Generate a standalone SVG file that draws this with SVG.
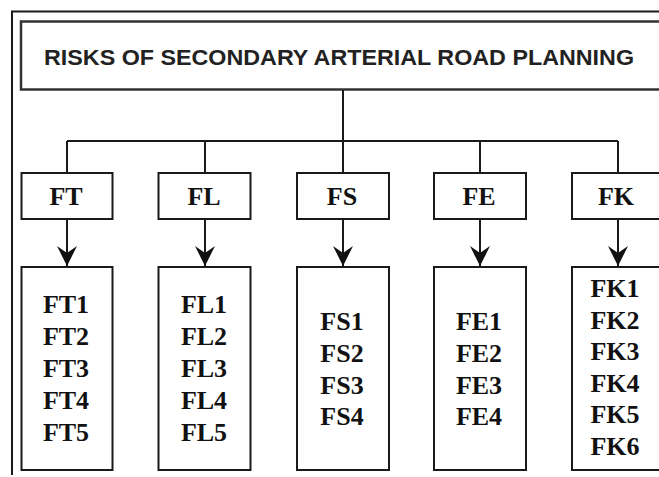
<svg xmlns="http://www.w3.org/2000/svg" width="659" height="477" viewBox="0 0 659 477">
<defs>
<style>
.box{fill:#fff;stroke:#1a1a1a;stroke-width:2}
.tbox{fill:#fff;stroke:#333;stroke-width:2.5}
.ln{fill:none;stroke:#1a1a1a;stroke-width:2}
.title{font-family:"Liberation Sans",Arial,sans-serif;font-weight:bold;font-size:22.5px;fill:#222}
.cat{font-family:"Liberation Serif","Times New Roman",serif;font-weight:bold;font-size:26px;fill:#111;text-anchor:middle}
.item{font-family:"Liberation Serif","Times New Roman",serif;font-weight:bold;font-size:26px;fill:#111;text-anchor:middle}
</style>
<marker id="arr" markerUnits="userSpaceOnUse" markerWidth="22" markerHeight="22" viewBox="-21 -11 22 22" refX="0" refY="0" orient="auto">
<path d="M-20,-10 L0,0 L-20,10 L-13,0 Z" fill="#111"/>
</marker>
</defs>
<rect width="659" height="477" fill="#fff"/>
<g id="frame">
<path class="ln" d="M12,475 V11.5 H659" stroke-width="2.2"/>
</g>
<g id="title">
<rect class="tbox" x="21" y="21.5" width="660" height="68"/>
<text class="title" x="44" y="65" textLength="590" lengthAdjust="spacingAndGlyphs">RISKS OF SECONDARY ARTERIAL ROAD PLANNING</text>
</g>
<g id="connectors">
<path class="ln" d="M343,90 V141 M67,141 H618 M67,141 V173 M205,141 V173 M343,141 V173 M480,141 V173 M618,141 V173"/>
<path class="ln" d="M67,219 V266" marker-end="url(#arr)"/>
<path class="ln" d="M205,219 V266" marker-end="url(#arr)"/>
<path class="ln" d="M343,219 V266" marker-end="url(#arr)"/>
<path class="ln" d="M480,219 V266" marker-end="url(#arr)"/>
<path class="ln" d="M618,219 V266" marker-end="url(#arr)"/>
</g>
<g id="FT">
<rect class="box" x="21.5" y="173" width="91" height="46"/>
<text class="cat" x="66" y="205">FT</text>
</g>
<g id="FL">
<rect class="box" x="158.5" y="173" width="92" height="46"/>
<text class="cat" x="204" y="205">FL</text>
</g>
<g id="FS">
<rect class="box" x="297" y="173" width="92" height="46"/>
<text class="cat" x="342" y="205">FS</text>
</g>
<g id="FE">
<rect class="box" x="434" y="173" width="92" height="46"/>
<text class="cat" x="479" y="205">FE</text>
</g>
<g id="FK">
<rect class="box" x="572" y="173" width="92" height="46"/>
<text class="cat" x="616" y="205">FK</text>
</g>
<g id="FT-items">
<rect class="box" x="21.5" y="267" width="91" height="203"/>
<text class="item" x="66" y="313">FT1</text>
<text class="item" x="66" y="345">FT2</text>
<text class="item" x="66" y="377">FT3</text>
<text class="item" x="66" y="409">FT4</text>
<text class="item" x="66" y="441">FT5</text>
</g>
<g id="FL-items">
<rect class="box" x="158.5" y="267" width="92" height="203"/>
<text class="item" x="204" y="313">FL1</text>
<text class="item" x="204" y="345">FL2</text>
<text class="item" x="204" y="377">FL3</text>
<text class="item" x="204" y="409">FL4</text>
<text class="item" x="204" y="441">FL5</text>
</g>
<g id="FS-items">
<rect class="box" x="297" y="267" width="92" height="203"/>
<text class="item" x="342" y="330">FS1</text>
<text class="item" x="342" y="362">FS2</text>
<text class="item" x="342" y="393.5">FS3</text>
<text class="item" x="342" y="425">FS4</text>
</g>
<g id="FE-items">
<rect class="box" x="434" y="267" width="92" height="203"/>
<text class="item" x="479" y="330">FE1</text>
<text class="item" x="479" y="362">FE2</text>
<text class="item" x="479" y="393.5">FE3</text>
<text class="item" x="479" y="425">FE4</text>
</g>
<g id="FK-items">
<rect class="box" x="572" y="267" width="92" height="203"/>
<text class="item" x="615" y="297">FK1</text>
<text class="item" x="615" y="328.6">FK2</text>
<text class="item" x="615" y="360.2">FK3</text>
<text class="item" x="615" y="391.8">FK4</text>
<text class="item" x="615" y="423.4">FK5</text>
<text class="item" x="615" y="455">FK6</text>
</g>
</svg>
